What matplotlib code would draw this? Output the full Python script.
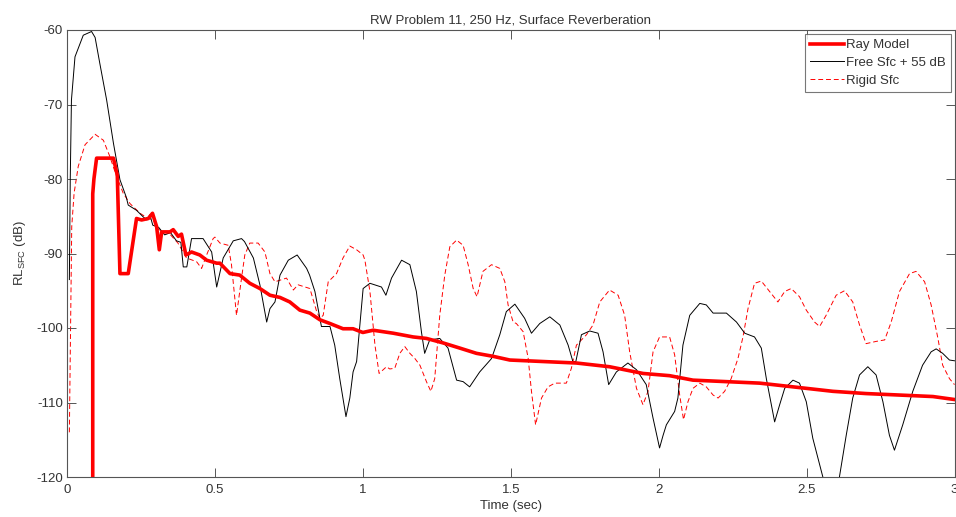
import numpy as np
import matplotlib
matplotlib.use('Agg')
import matplotlib.pyplot as plt

# RW Problem 11, 250 Hz surface reverberation

t_free = [0.008, 0.011, 0.015, 0.027, 0.055, 0.083, 0.095, 0.111, 0.134, 0.157,
          0.179, 0.2, 0.207, 0.235, 0.258, 0.27, 0.28, 0.29, 0.31, 0.33,
          0.35, 0.37, 0.385, 0.393, 0.405, 0.421, 0.46, 0.489, 0.506, 0.528,
          0.562, 0.59, 0.6, 0.63, 0.652, 0.675, 0.686, 0.703, 0.72, 0.748,
          0.778, 0.81, 0.82, 0.838, 0.86, 0.889, 0.905, 0.922, 0.943, 0.956,
          0.967, 0.979, 0.99, 1.001, 1.024, 1.063, 1.078, 1.097, 1.131, 1.159,
          1.181, 1.198, 1.209, 1.226, 1.26, 1.288, 1.317, 1.339, 1.361, 1.395,
          1.435, 1.463, 1.485, 1.514, 1.547, 1.57, 1.598, 1.632, 1.666, 1.694,
          1.71, 1.72, 1.739, 1.767, 1.795, 1.812, 1.831, 1.857, 1.896, 1.925,
          1.958, 1.981, 2.003, 2.015, 2.026, 2.054, 2.065, 2.082, 2.105, 2.139,
          2.161, 2.184, 2.229, 2.263, 2.291, 2.324, 2.347, 2.364, 2.392, 2.409,
          2.426, 2.454, 2.476, 2.499, 2.521, 2.542, 2.555, 2.58, 2.611, 2.634,
          2.656, 2.679, 2.707, 2.735, 2.758, 2.78, 2.797, 2.825, 2.859, 2.892,
          2.921, 2.938, 2.96, 2.983, 3.0]
rl_free = [-93.5, -80, -69.4, -63.6, -60.7, -60.2, -61, -64.5, -69.4, -75.2,
           -80.1, -82.4, -83.5, -84.2, -85.1, -85.5, -84.8, -86.2, -86.5, -87.5,
           -87.2, -88.3, -88.5, -91.8, -91.8, -88, -88, -89.8, -94.5, -90.6,
           -88.3, -88, -88.4, -90.6, -94.2, -99.2, -97.4, -96.5, -92.9, -90.9,
           -90.2, -92, -92.9, -95.1, -99.8, -99.8, -102.3, -106.8, -111.9, -109.4,
           -105.9, -104.5, -99.6, -94.7, -94, -94.5, -95.6, -93.3, -90.9, -91.5,
           -95.1, -100.5, -103.4, -101.6, -101.4, -102.7, -107, -107.2, -107.9, -105.9,
           -104.1, -100.9, -97.8, -96.8, -98.7, -100.7, -99.4, -98.5, -99.6, -102.3,
           -104.5, -104.5, -100.9, -100.4, -100.7, -103.2, -107.6, -105.9, -104.7, -105.6,
           -107.6, -112.1, -116.1, -114.4, -113, -111.2, -109.4, -102.3, -98.3, -96.7,
           -96.9, -98, -98, -99.2, -100.7, -101.2, -102.7, -106.8, -112.6, -110.3,
           -108.1, -107, -107.4, -109.9, -114.8, -118, -120, -122.5, -120, -114.4,
           -109.4, -106.3, -105.2, -106.3, -109.9, -114.4, -116.4, -113, -108.5, -105,
           -103.2, -102.8, -103.4, -104.3, -104.4]

t_rigid = [0.008, 0.012, 0.016, 0.024, 0.038, 0.061, 0.095, 0.123, 0.145, 0.168,
           0.19, 0.213, 0.247, 0.27, 0.292, 0.31, 0.326, 0.35, 0.375, 0.404,
           0.438, 0.455, 0.472, 0.494, 0.5, 0.517, 0.545, 0.556, 0.573, 0.59,
           0.601, 0.618, 0.646, 0.669, 0.686, 0.703, 0.742, 0.765, 0.781, 0.821,
           0.844, 0.855, 0.866, 0.883, 0.911, 0.933, 0.956, 0.979, 1.001, 1.007,
           1.024, 1.041, 1.055, 1.08, 1.091, 1.108, 1.125, 1.142, 1.159, 1.176,
           1.193, 1.215, 1.23, 1.243, 1.26, 1.277, 1.294, 1.317, 1.339, 1.356,
           1.373, 1.386, 1.406, 1.435, 1.463, 1.48, 1.491, 1.508, 1.519, 1.542,
           1.559, 1.57, 1.584, 1.604, 1.626, 1.649, 1.688, 1.705, 1.722, 1.756,
           1.778, 1.801, 1.834, 1.863, 1.885, 1.902, 1.925, 1.947, 1.964, 1.981,
           2.003, 2.037, 2.054, 2.071, 2.084, 2.099, 2.116, 2.139, 2.161, 2.184,
           2.201, 2.223, 2.245, 2.268, 2.285, 2.302, 2.324, 2.347, 2.375, 2.403,
           2.426, 2.448, 2.476, 2.499, 2.527, 2.544, 2.566, 2.6, 2.628, 2.656,
           2.679, 2.701, 2.735, 2.764, 2.786, 2.814, 2.848, 2.87, 2.899, 2.921,
           2.944, 2.96, 2.983, 3.0]
rl_rigid = [-114, -100, -86.4, -81.9, -78.3, -75.4, -74, -74.8, -77, -79.7,
            -81.9, -83.3, -84.6, -85.2, -85.5, -86.8, -87, -87.5, -88.6, -90.6,
            -91.1, -92, -90.2, -88, -87.8, -88.6, -88.9, -91.5, -98.3, -93.3,
            -90.2, -88.6, -88.6, -89.8, -92.7, -93.8, -93.3, -94.9, -94.2, -94.7,
            -97.8, -98.7, -98.3, -93.8, -92.7, -90.6, -89, -89.5, -90.2, -90.9,
            -95.1, -102.3, -106.1, -105.2, -105.5, -105.4, -103.4, -102.5, -103.4, -104.1,
            -105, -107.2, -108.5, -106.8, -98.3, -92.9, -89.1, -88.2, -88.9, -91.5,
            -94.7, -95.8, -92.4, -91.5, -92, -93.8, -96.9, -99.2, -99.4, -100.5,
            -104.1, -108.5, -113, -109.4, -107.9, -107.4, -107.4, -105.4, -102.3, -100.9,
            -99.6, -96.5, -94.9, -95.6, -98.3, -103.2, -108.1, -110.3, -108.5, -103.2,
            -101.2, -101.2, -103.6, -109, -112.3, -109.9, -108.1, -107.4, -107.9, -109,
            -109.4, -108.5, -106.8, -104.1, -101.2, -97.4, -94, -93.7, -95.1, -96.5,
            -95.1, -94.7, -95.8, -97.6, -99.2, -99.8, -98.3, -95.6, -95, -96.5,
            -99.6, -102.1, -101.8, -101.6, -99.2, -95.1, -92.7, -92.4, -93.8, -96.9,
            -101.4, -105, -106.8, -107.6]

t_ray = [0.087, 0.087, 0.091, 0.1, 0.157, 0.17, 0.179, 0.207, 0.235, 0.252,
         0.275, 0.289, 0.303, 0.312, 0.32, 0.348, 0.359, 0.376, 0.387, 0.402,
         0.421, 0.449, 0.472, 0.506, 0.517, 0.551, 0.584, 0.618, 0.652, 0.686,
         0.72, 0.753, 0.787, 0.821, 0.855, 0.889, 0.933, 0.967, 1.0, 1.035,
         1.103, 1.17, 1.215, 1.271, 1.328, 1.384, 1.44, 1.497, 1.609, 1.722,
         1.834, 1.947, 2.037, 2.116, 2.229, 2.341, 2.454, 2.544, 2.589, 2.701,
         2.814, 2.927, 3.0]
rl_ray = [-125, -82, -80, -77.2, -77.2, -79.5, -92.7, -92.7, -85.3, -85.5,
          -85.3, -84.6, -86.4, -89.5, -87.1, -87.1, -86.8, -87.7, -87.4, -90.2,
          -89.8, -90.2, -90.9, -91.3, -91.3, -92.7, -92.9, -94, -94.7, -95.6,
          -95.9, -96.5, -97.6, -98, -98.9, -99.4, -100.1, -100.1, -100.6, -100.3,
          -100.7, -101.2, -101.4, -102, -102.7, -103.4, -103.8, -104.3, -104.5, -104.7,
          -105.2, -106.1, -106.4, -107, -107.2, -107.4, -107.9, -108.3, -108.5, -108.8,
          -109, -109.2, -109.6]

xticks = [0, 0.5, 1, 1.5, 2, 2.5, 3]
xticklabels = ['0', '0.5', '1', '1.5', '2', '2.5', '3']
yticks = [-120, -110, -100, -90, -80, -70, -60]

plt.rcParams['font.family'] = ['Liberation Sans', 'DejaVu Sans']
plt.rcParams['font.size'] = 9.5
plt.rcParams['axes.unicode_minus'] = False
plt.rcParams['mathtext.default'] = 'regular'

txt = '#333333'
fs = 9.5
fig = plt.figure(figsize=(9.56, 5.17), dpi=100)
ax = fig.add_axes([67/956, 1 - 477/517, (954.5 - 67)/956, (477 - 30)/517])

ax.plot(t_ray, rl_ray, color='red', lw=2.6, label='Ray Model', zorder=3)
ax.plot(t_free, rl_free, color='black', lw=0.7, label='Free Sfc + 55 dB', zorder=2)
ax.plot(t_rigid, rl_rigid, color='red', lw=0.7, ls=(0, (5, 3)), label='Rigid Sfc', zorder=1)

ax.set_xlim(0, 3)
ax.set_ylim(-120, -60)
ax.set_xticks(xticks)
ax.set_xticklabels(xticklabels)
ax.set_yticks(yticks)
ax.tick_params(direction='in', length=6.5, width=0.7, top=True, right=True,
               colors='#555555', labelcolor=txt, labelsize=fs, pad=3)
ax.tick_params(axis='x', pad=5)
for s in ax.spines.values():
    s.set_color('#555555')
    s.set_linewidth(0.8)

ax.set_title('RW Problem 11, 250 Hz, Surface Reverberation', fontsize=fs, color=txt, pad=5)
ax.set_xlabel('Time (sec)', fontsize=fs, color=txt, labelpad=3)
ax.set_ylabel('RL$_{SFC}$ (dB)', fontsize=fs, color=txt, labelpad=6)

leg = ax.legend(loc='upper right', fontsize=fs, frameon=True, fancybox=False,
                borderaxespad=0.3, handlelength=2.6, handletextpad=0.1,
                borderpad=0.4, labelspacing=0.4)
leg.get_frame().set_edgecolor('#555555')
leg.get_frame().set_linewidth(0.8)
for tx in leg.get_texts():
    tx.set_color(txt)

fig.savefig('out.png', dpi=100)
